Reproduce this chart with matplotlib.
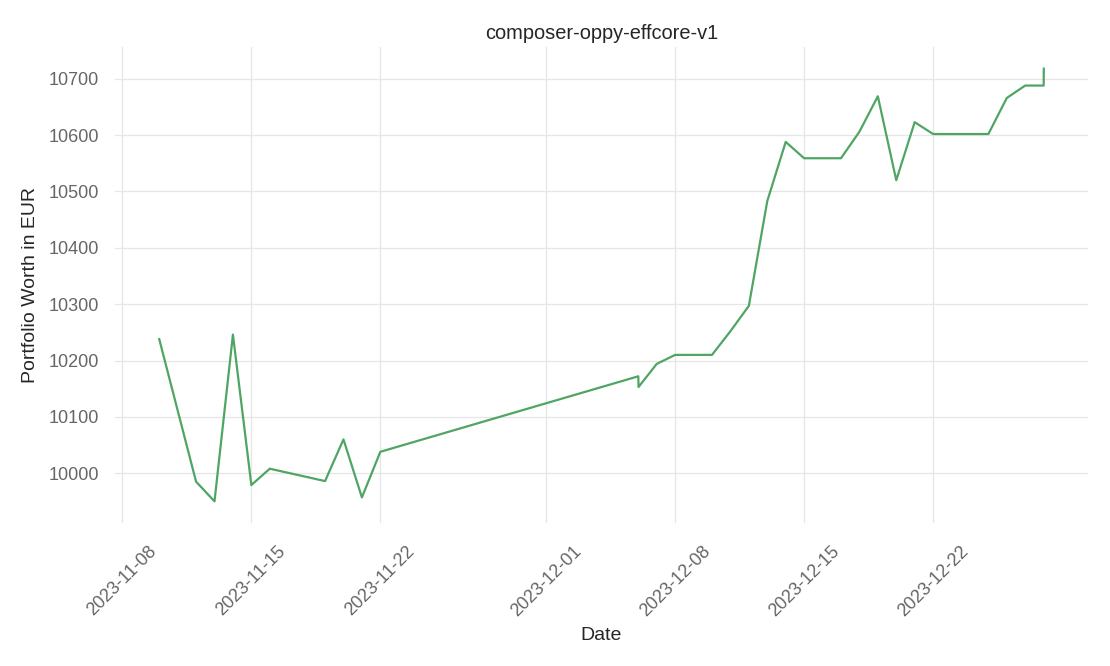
import matplotlib
matplotlib.use("Agg")
import matplotlib.pyplot as plt
import matplotlib.dates as mdates
import pandas as pd

dates = [
    "2023-11-10 00:00", "2023-11-12 00:00", "2023-11-13 00:00", "2023-11-14 00:00", "2023-11-15 00:00",
    "2023-11-16 00:00", "2023-11-19 00:00", "2023-11-20 00:00", "2023-11-21 00:00", "2023-11-22 00:00",
    "2023-12-06 00:00", "2023-12-06 00:20", "2023-12-07 00:00", "2023-12-08 00:00",
    "2023-12-10 00:00", "2023-12-11 00:00", "2023-12-12 00:00", "2023-12-13 00:00", "2023-12-14 00:00",
    "2023-12-15 00:00", "2023-12-17 00:00", "2023-12-18 00:00", "2023-12-19 00:00", "2023-12-20 00:00",
    "2023-12-21 00:00", "2023-12-22 00:00", "2023-12-25 00:00", "2023-12-26 00:00", "2023-12-27 00:00",
    "2023-12-28 00:00", "2023-12-28 00:10",
]
worth = [
    10238, 9985, 9950, 10246, 9979,
    10008, 9986, 10060, 9957, 10038,
    10172, 10153, 10194, 10210,
    10210, 10252, 10297, 10483, 10588,
    10559, 10559, 10606, 10669, 10520,
    10623, 10602, 10602, 10666, 10688,
    10688, 10718,
]
x_ticks = ["2023-11-08", "2023-11-15", "2023-11-22", "2023-12-01",
           "2023-12-08", "2023-12-15", "2023-12-22"]
y_ticks = [10000, 10100, 10200, 10300, 10400, 10500, 10600, 10700]

plt.rcParams["font.family"] = ["Liberation Sans", "DejaVu Sans"]

fig = plt.figure(figsize=(11.1, 6.66), dpi=100)
ax = fig.add_axes([0.1036, 0.2147, 0.8766, 0.7147])

ax.plot(pd.to_datetime(dates, format="%Y-%m-%d %H:%M"), worth, color="#4fa564", linewidth=1.6)

ax.set_xticks(pd.to_datetime(x_ticks, format="%Y-%m-%d"))
ax.xaxis.set_major_formatter(mdates.DateFormatter("%Y-%m-%d"))
ax.set_yticks(y_ticks)

for s in ax.spines.values():
    s.set_visible(False)
ax.grid(True, color="#e6e6e6", linewidth=0.9)
ax.set_axisbelow(True)
ax.tick_params(axis="both", length=0, labelsize=13, labelcolor="#666666")
ax.tick_params(axis="y", pad=11.5)
ax.tick_params(axis="x", pad=14)
plt.setp(ax.get_xticklabels(), rotation=45, ha="center")

ax.set_title("composer-oppy-effcore-v1", fontsize=14.4, color="#262626", pad=6)
ax.set_xlabel("Date", fontsize=14, color="#262626", labelpad=5.5)
ax.set_ylabel("Portfolio Worth in EUR", fontsize=14, color="#262626", labelpad=6.5)

fig.savefig("out.png", dpi=100, facecolor="white")
